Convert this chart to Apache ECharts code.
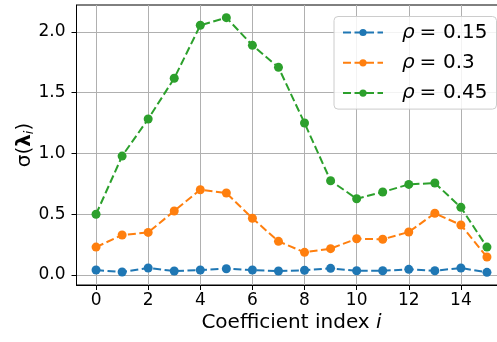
<!DOCTYPE html>
<html><head><meta charset="utf-8">
<script src="https://cdn.jsdelivr.net/npm/echarts@6/dist/echarts.min.js"></script>
<style>html,body{margin:0;padding:0;background:#fff}#c{width:497px;height:342px}</style>
</head><body><div id="c"></div>
<script>
const indices = [0,1,2,3,4,5,6,7,8,9,10,11,12,13,14,15];
const rho015 = [0.041,0.025,0.058,0.033,0.041,0.052,0.041,0.033,0.039,0.055,0.035,0.035,0.047,0.035,0.058,0.022];
const rho030 = [0.230,0.329,0.351,0.527,0.702,0.675,0.467,0.277,0.187,0.217,0.299,0.294,0.354,0.508,0.412,0.148];
const rho045 = [0.500,0.979,1.284,1.619,2.055,2.118,1.890,1.709,1.251,0.776,0.628,0.683,0.746,0.757,0.557,0.230];
const seriesNames = ['ρ = 0.15','ρ = 0.3','ρ = 0.45'];
const xTicks = [0,2,4,6,8,10,12,14];
const yTicks = [0,0.5,1.0,1.5,2.0];
const colors = ['#1f77b4','#ff7f0e','#2ca02c'];

const font = 'DejaVu Sans';
function mk(name, vals, color){
  return {
    name: name, type:'line',
    data: indices.map((x,i)=>[x, vals[i]]),
    symbol:'circle', symbolSize:9, showSymbol:true,
    itemStyle:{color:color},
    lineStyle:{color:color, width:2, type:[8,3.5]},
    animation:false, z:3
  };
}
const chart = echarts.init(document.getElementById('c'), null, {renderer:'canvas'});
chart.setOption({
  animation:false,
  grid:{left:76.5, top:5, width:430, height:280, show:true, borderColor:'#000', borderWidth:1, backgroundColor:'transparent', containLabel:false, outerBoundsMode:'none'},
  xAxis:{
    type:'value', min:-0.75, max:15.75,
    name:'Coefficient index {i|i}', nameLocation:'middle', nameGap:28, nameMoveOverlap:false,
    nameTextStyle:{fontFamily:font, fontSize:20, color:'#000', rich:{i:{fontFamily:font, fontStyle:'italic', fontSize:20, color:'#000'}}},
    axisLine:{show:true, onZero:false, lineStyle:{color:'#000', width:1}},
    axisTick:{show:true, length:5, lineStyle:{color:'#000'}, customValues:xTicks},
    axisLabel:{fontFamily:font, fontSize:17, color:'#000', margin:7, customValues:xTicks, formatter:v=>String(v)},
    splitLine:{show:true, lineStyle:{color:'#b0b0b0', width:1}}
  },
  yAxis:{
    type:'value', min:-0.082, max:2.222,
    name:'{n|σ(}{b|λ}{s|i}{n|)}', nameLocation:'middle', nameGap:40, nameRotate:90, nameMoveOverlap:false,
    nameTextStyle:{fontFamily:font, fontSize:20, color:'#000',
      rich:{n:{fontFamily:font, fontSize:20, color:'#000', lineHeight:24},
            b:{fontFamily:font, fontSize:20, fontWeight:'bold', color:'#000', lineHeight:24},
            s:{fontFamily:font, fontSize:13, fontStyle:'italic', color:'#000', verticalAlign:'bottom', lineHeight:16}}},
    axisLine:{show:true, onZero:false, lineStyle:{color:'#000', width:1}},
    axisTick:{show:true, length:5, lineStyle:{color:'#000'}, customValues:yTicks},
    axisLabel:{fontFamily:font, fontSize:17, color:'#000', margin:11, customValues:yTicks, formatter:v=>v.toFixed(1)},
    splitLine:{show:true, lineStyle:{color:'#b0b0b0', width:1}}
  },
  legend:{
    left:334, top:16.5, orient:'vertical',
    data:seriesNames,
    itemWidth:40, itemHeight:9, itemGap:6.3,
    padding:[4,9,4,8],
    backgroundColor:'rgba(255,255,255,0.85)', borderColor:'#cccccc', borderWidth:1, borderRadius:4,
    formatter: n => '{r|ρ}{e|=}{t|' + n.split('= ')[1] + '}',
    textStyle:{fontFamily:font, fontSize:20, color:'#000', lineHeight:24,
      rich:{r:{fontFamily:font, fontSize:20, fontStyle:'italic', color:'#000', padding:[0,0,0,14], lineHeight:24},
            e:{fontFamily:font, fontSize:20, color:'#000', padding:[0,6.7,0,4.8], lineHeight:24},
            t:{fontFamily:font, fontSize:20, color:'#000', lineHeight:24}}}
  },
  series:[mk(seriesNames[0], rho015, colors[0]), mk(seriesNames[1], rho030, colors[1]), mk(seriesNames[2], rho045, colors[2])]
});
</script></body></html>
